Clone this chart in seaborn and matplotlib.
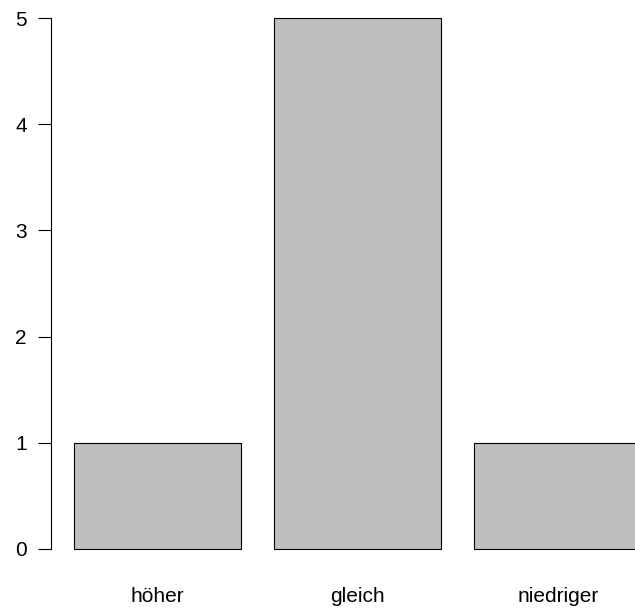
import pandas as pd
import matplotlib
matplotlib.use('Agg')
import matplotlib.pyplot as plt
import seaborn as sns

# Data
categories = ['höher', 'gleich', 'niedriger']
counts = [1, 5, 1]
y_ticks = [0, 1, 2, 3, 4, 5]

df = pd.DataFrame({'Kategorie': categories, 'Anzahl': counts})

sns.set_style('white')
plt.rcParams['font.family'] = ['Liberation Sans', 'DejaVu Sans']

fig = plt.figure(figsize=(6.35, 6.10), dpi=100)
# axes region mimics R's plot region (partly cut off at right/top)
ax = fig.add_axes([51 / 635, 40 / 610, 613 / 635, 573 / 610])

sns.barplot(data=df, x='Kategorie', y='Anzahl', color='#BEBEBE', saturation=1,
            width=1 / 1.2, edgecolor='black', linewidth=0.8, ax=ax)

ax.set_xlim(-0.53, 2.53)
ax.set_ylim(-0.2, 5.2)
ax.set_yticks(y_ticks)
ax.set_xlabel('')
ax.set_ylabel('')

for s in ['top', 'right', 'bottom']:
    ax.spines[s].set_visible(False)
ax.spines['left'].set_bounds(0, 5)
ax.spines['left'].set_color('black')
ax.spines['left'].set_linewidth(0.8)

ax.tick_params(axis='y', length=9.5, width=0.8, color='black', pad=8,
               labelsize=15, labelcolor='black', left=True)
ax.tick_params(axis='x', length=0, pad=12.5, labelsize=15, labelcolor='black')

fig.savefig('out.png', dpi=100)
